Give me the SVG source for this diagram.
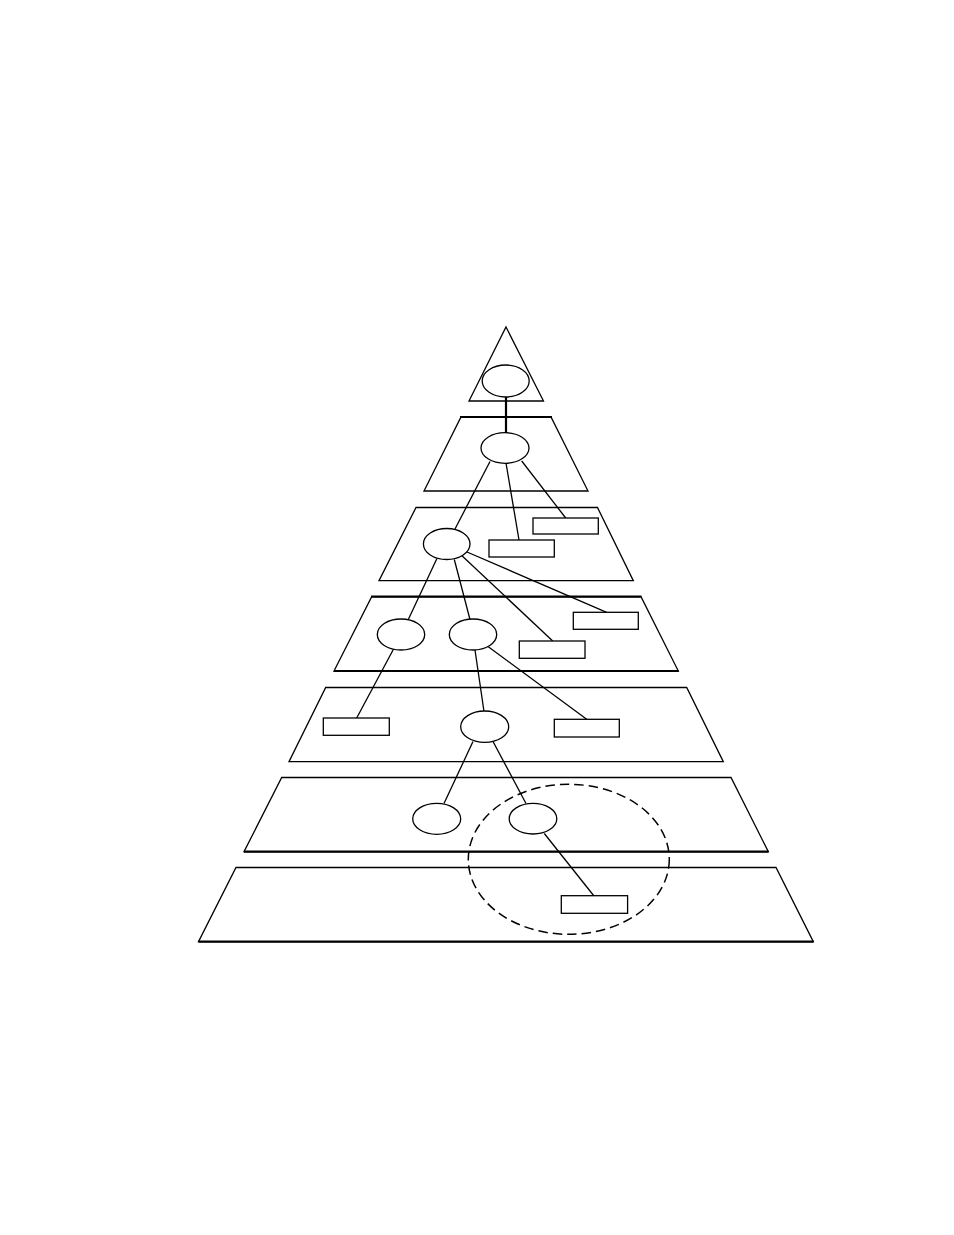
<svg xmlns="http://www.w3.org/2000/svg" width="954" height="1235" viewBox="0 0 954 1235">
<style>
.layer{fill:none;stroke:#000;stroke-width:1.3;stroke-linejoin:miter}
.thick{fill:none;stroke:#000;stroke-width:2.2}
.node{fill:#fff;stroke:#000;stroke-width:1.3}
.box{fill:#fff;stroke:#000;stroke-width:1.3}
.conn line{stroke:#000;stroke-width:1.3}
.dash{fill:none;stroke:#000;stroke-width:1.5;stroke-dasharray:9.5,5}
</style>
<rect width="954" height="1235" fill="#fff"/>
<g id="layers">
<polygon class="layer" points="506,327 543.5,401 469,401"/>
<polygon class="layer" points="461,417 551,417 588,491 424,491"/>
<line class="thick" x1="460" y1="417" x2="552" y2="417"/>
<polygon class="layer" points="416,507.5 597.5,507.5 633.3,580.7 379,580.7"/>
<polygon class="layer" points="371.7,596.7 641,596.7 678.3,671 334,671"/>
<line class="thick" x1="371" y1="596.7" x2="641.5" y2="596.7"/>
<line class="thick" x1="334" y1="671" x2="678.5" y2="671"/>
<polygon class="layer" points="325.7,687.5 686.7,687.5 723.3,761.7 289,761.7"/>
<polygon class="layer" points="281.7,777.5 731,777.5 768.3,851.7 244,851.7"/>
<line class="thick" x1="244" y1="851.7" x2="768.5" y2="851.7"/>
<polygon class="layer" points="236,867.5 776,867.5 813.3,941.7 198.5,941.7"/>
<line class="thick" x1="198.5" y1="941.7" x2="813.5" y2="941.7"/>
</g>
<g id="connectors" class="conn">
<line x1="506" y1="397" x2="506" y2="433" style="stroke-width:2.2"/>
<line x1="490" y1="461.5" x2="455" y2="529"/>
<line x1="506" y1="463" x2="519" y2="540"/>
<line x1="521.7" y1="461" x2="565.7" y2="518"/>
<line x1="436.7" y1="559" x2="408.3" y2="619.5"/>
<line x1="454.3" y1="559.5" x2="470" y2="619.5"/>
<line x1="461.7" y1="555.5" x2="552.7" y2="641"/>
<line x1="467" y1="552" x2="606.7" y2="612.3"/>
<line x1="393.3" y1="649.5" x2="356.7" y2="718"/>
<line x1="475" y1="650" x2="484" y2="711.5"/>
<line x1="488.3" y1="646.7" x2="586.7" y2="719.3"/>
<line x1="473" y1="741.5" x2="444" y2="803.5"/>
<line x1="493" y1="741.5" x2="526" y2="803.5"/>
<line x1="544.3" y1="833.5" x2="594" y2="896"/>
</g>
<g id="n1"><ellipse class="node" cx="505.7" cy="381" rx="23.5" ry="16"/></g>
<g id="n2"><ellipse class="node" cx="505" cy="448" rx="24" ry="15.3"/></g>
<g id="b1"><rect class="box" x="533" y="518" width="65.3" height="16"/></g>
<g id="b2"><rect class="box" x="489" y="540" width="65.3" height="17"/></g>
<g id="n3"><ellipse class="node" cx="446.7" cy="544" rx="23.3" ry="15.5"/></g>
<g id="b3"><rect class="box" x="573.3" y="612.3" width="65" height="17"/></g>
<g id="b4"><rect class="box" x="519.3" y="641" width="65.7" height="17.3"/></g>
<g id="n4"><ellipse class="node" cx="401" cy="634.5" rx="23.7" ry="15.5"/></g>
<g id="n5"><ellipse class="node" cx="473" cy="634.5" rx="23.7" ry="15.5"/></g>
<g id="b5"><rect class="box" x="323.3" y="718" width="66" height="17.3"/></g>
<g id="b6"><rect class="box" x="554.3" y="719.3" width="65" height="17.7"/></g>
<g id="n6"><ellipse class="node" cx="484.7" cy="726.7" rx="24" ry="15.7"/></g>
<g id="n7"><ellipse class="node" cx="436.7" cy="818.8" rx="24" ry="15.5"/></g>
<g id="n8"><ellipse class="node" cx="533" cy="818.7" rx="23.8" ry="15.3"/></g>
<g id="b7"><rect class="box" x="561.3" y="895.7" width="66.3" height="17.6"/></g>
<g id="group"><ellipse class="dash" cx="568.8" cy="859.3" rx="100.5" ry="75"/></g>
</svg>
